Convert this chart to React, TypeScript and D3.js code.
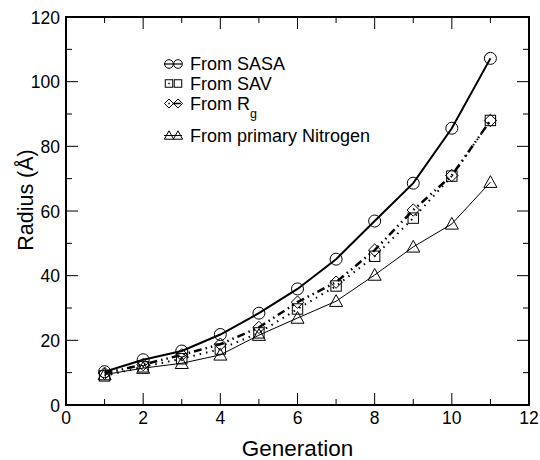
import React from "react";
import * as d3 from "d3";

const generations = [1, 2, 3, 4, 5, 6, 7, 8, 9, 10, 11];
const sasa = [10.3, 14.0, 16.7, 21.8, 28.4, 35.9, 45.1, 56.9, 68.6, 85.6, 107.2];
const sav = [9.0, 11.8, 14.3, 17.3, 22.3, 29.7, 36.8, 46.0, 57.8, 70.8, 88.0];
const rg = [9.8, 12.5, 15.5, 18.8, 24.0, 31.8, 38.0, 47.9, 60.3, 71.0, 88.0];
const nitrogen = [9.4, 11.4, 12.9, 15.5, 21.6, 26.9, 32.1, 40.2, 48.9, 56.0, 68.9];
const xTicks = [0, 2, 4, 6, 8, 10, 12];
const yTicks = [0, 20, 40, 60, 80, 100, 120];

const W = 540, H = 460;
const L = 66, R = 529, T = 17, B = 405;

type Sym = "circle" | "square" | "diamond" | "triangle";

function Marker({ x, y, sym, k = 1 }: { x: number; y: number; sym: Sym; k?: number }) {
  const st = { fill: "none", stroke: "#000", strokeWidth: 1 };
  if (sym === "circle") return <circle cx={x} cy={y} r={6 * k} {...st} />;
  if (sym === "square") {
    const h = 5.2 * k;
    return <rect x={x - h} y={y - h} width={2 * h} height={2 * h} {...st} />;
  }
  if (sym === "diamond") {
    const h = 6.2 * k;
    return <path d={`M${x},${y - h}L${x + h},${y}L${x},${y + h}L${x - h},${y}Z`} {...st} />;
  }
  const h = 6.5 * k;
  return <path d={`M${x},${y - h}L${x + h},${y + h * 0.8}L${x - h},${y + h * 0.8}Z`} {...st} />;
}

export default function App() {
  const x = d3.scaleLinear().domain([0, 12]).range([L, R]);
  const y = d3.scaleLinear().domain([0, 120]).range([B, T]);
  const line = d3
    .line<number>()
    .x((_, i) => x(generations[i]))
    .y((d) => y(d));

  const series: {
    data: number[];
    sym: Sym;
    width: number;
    dash?: string;
    legendDash?: string;
    legendWidth: number;
    label: string;
  }[] = [
    { data: sasa, sym: "circle", width: 2, legendWidth: 1.2, label: "From SASA" },
    { data: sav, sym: "square", width: 2, dash: "1.5,5", legendDash: "1.5,20", legendWidth: 1.5, label: "From SAV" },
    { data: rg, sym: "diamond", width: 2.5, dash: "8,4,1.5,4,1.5,4", legendDash: "1.5,3,8,20", legendWidth: 1.5, label: "From R" },
    { data: nitrogen, sym: "triangle", width: 1, legendWidth: 1, label: "From primary Nitrogen" },
  ];
  const legendY = [64, 83.5, 103.5, 135.5];

  const xMinor = d3.range(0, 12.01, 1);
  const yMinor = d3.range(0, 120.01, 10);
  const font = "Liberation Sans, Arial, Helvetica, sans-serif";

  return (
    <svg width={W} height={H} style={{ position: "absolute", left: 0, top: 0, background: "#fff" }} fontFamily={font}>
      <rect width={W} height={H} fill="#fff" />
      {xMinor.map((v) => {
        const len = v % 2 === 0 ? 12 : 6;
        return (
          <g key={"xt" + v} stroke="#000" strokeWidth={1}>
            <line x1={x(v)} x2={x(v)} y1={B} y2={B - len} />
            <line x1={x(v)} x2={x(v)} y1={T} y2={T + len} />
          </g>
        );
      })}
      {yMinor.map((v) => {
        const len = v % 20 === 0 ? 12 : 6;
        return (
          <g key={"yt" + v} stroke="#000" strokeWidth={1}>
            <line x1={L} x2={L + len} y1={y(v)} y2={y(v)} />
            <line x1={R} x2={R - len} y1={y(v)} y2={y(v)} />
          </g>
        );
      })}
      <rect x={L} y={T} width={R - L} height={B - T} fill="none" stroke="#000" strokeWidth={2} />
      {xTicks.map((v) => (
        <text key={"xl" + v} x={x(v)} y={B + 19} textAnchor="middle" fontSize={17.5}>
          {v}
        </text>
      ))}
      {yTicks.map((v) => (
        <text key={"yl" + v} x={L - 6} y={y(v) + 6.5} textAnchor="end" fontSize={17.5}>
          {v}
        </text>
      ))}
      <text x={(L + R) / 2} y={456} textAnchor="middle" fontSize={22.5}>
        Generation
      </text>
      <text transform={`translate(33,200) rotate(-90)`} textAnchor="middle" fontSize={21.5}>
        Radius (Å)
      </text>
      {series.map((s, k) => (
        <g key={"s" + k}>
          <path d={line(s.data) || ""} fill="none" stroke="#000" strokeWidth={s.width} strokeDasharray={s.dash} />
          {s.data.map((d, i) => (
            <Marker key={i} x={x(generations[i])} y={y(d)} sym={s.sym} />
          ))}
        </g>
      ))}
      {series.map((s, k) => {
        const ly = legendY[k];
        const x0 = s.legendDash ? 168.3 : 164;
        return (
          <g key={"lg" + k}>
            <line x1={x0} x2={182} y1={ly} y2={ly} stroke="#000" strokeWidth={s.legendWidth} strokeDasharray={s.legendDash} />
            <Marker x={169} y={ly} sym={s.sym} k={0.72} />
            <Marker x={178} y={ly} sym={s.sym} k={0.72} />
            <text x={190} y={ly + 6} fontSize={18}>
              {s.label}
              {k === 2 && (
                <tspan dy={8} fontSize={12.5}>
                  g
                </tspan>
              )}
            </text>
          </g>
        );
      })}
    </svg>
  );
}
